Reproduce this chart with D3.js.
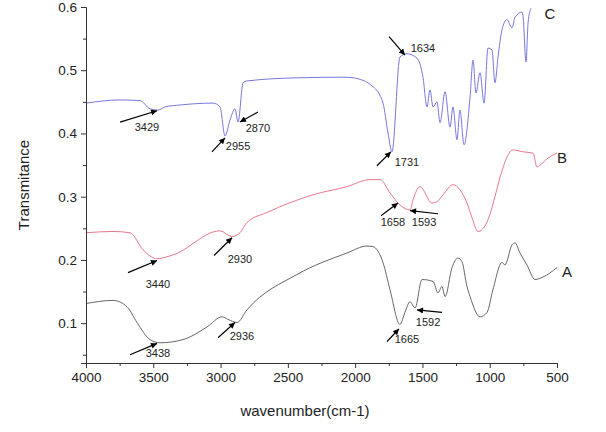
<!DOCTYPE html>
<html><head><meta charset="utf-8">
<script src="https://cdn.jsdelivr.net/npm/d3@7/dist/d3.min.js"></script>
<style>body{margin:0;background:#fff}text{font-family:"Liberation Sans",Arial,sans-serif}</style>
</head><body><svg id="c" width="606" height="432"></svg>
<script>
const xTicks=[4000,3500,3000,2500,2000,1500,1000,500];
const yTicks=[0.1,0.2,0.3,0.4,0.5,0.6];
const seriesC=[[4000,.448],[3747,.453],[3599,.452],[3524,.439],[3465,.437],[3413,.442],[3301,.445],[3056,.448],[3004,.442],[2967,.396],[2930,.421],[2893,.439],[2870,.418],[2833,.480],[2804,.483],[2432,.488],[2090,.489],[2016,.488],[1867,.474],[1793,.448],[1756,.401],[1726,.371],[1667,.521],[1615,.526],[1540,.519],[1496,.489],[1466,.442],[1444,.469],[1421,.442],[1392,.450],[1369,.417],[1332,.466],[1295,.410],[1273,.442],[1243,.390],[1221,.437],[1191,.382],[1146,.458],[1124,.516],[1102,.464],[1072,.496],[1042,.448],[1013,.535],[983,.532],[961,.480],[938,.521],[909,.564],[872,.580],[834,.567],[812,.584],[760,.592],[753,.587],[730,.513],[715,.575],[693,.598]];
const seriesB=[[4000,.243],[3799,.245],[3673,.243],[3576,.216],[3472,.202],[3353,.208],[3004,.246],[2915,.237],[2856,.243],[2804,.259],[2655,.275],[2313,.303],[2060,.316],[1890,.327],[1815,.327],[1741,.306],[1667,.287],[1592,.279],[1570,.295],[1518,.316],[1429,.290],[1392,.292],[1347,.303],[1273,.319],[1221,.311],[1169,.290],[1132,.267],[1087,.245],[1020,.260],[961,.300],[923,.331],[827,.374],[753,.371],[678,.369],[649,.347],[604,.354],[567,.361],[500,.369]];
const seriesA=[[4000,.131],[3799,.136],[3695,.126],[3621,.101],[3524,.074],[3450,.069],[3279,.074],[3101,.094],[2989,.110],[2945,.106],[2878,.101],[2804,.121],[2432,.177],[2060,.211],[1912,.222],[1867,.221],[1793,.196],[1741,.153],[1667,.098],[1630,.117],[1592,.134],[1555,.124],[1503,.169],[1421,.166],[1384,.148],[1355,.158],[1332,.142],[1280,.188],[1236,.203],[1206,.197],[1169,.158],[1146,.142],[1072,.110],[1020,.117],[976,.153],[909,.196],[887,.192],[834,.224],[812,.227],[775,.211],[723,.192],[663,.169],[604,.173],[500,.188]];
// label, tail, head, text position (data coords)
const annotations=[
["3429",[3747,.418],[3472,.436],[3547,.410]],
["3440",[3688,.180],[3472,.199],[3465,.161]],
["3438",[3673,.050],[3472,.068],[3465,.053]],
["2955",[3064,.371],[2967,.393],[2870,.380]],
["2870",[2722,.434],[2856,.418],[2722,.409]],
["2930",[3049,.207],[2915,.235],[2856,.202]],
["2936",[3019,.077],[2893,.101],[2841,.079]],
["1731",[1838,.349],[1734,.371],[1615,.354]],
["1634",[1748,.553],[1630,.524],[1496,.535]],
["1658",[1808,.270],[1682,.290],[1719,.260]],
["1593",[1384,.273],[1592,.278],[1488,.260]],
["1665",[1763,.071],[1674,.091],[1615,.074]],
["1592",[1355,.117],[1540,.121],[1458,.101]]];
const seriesLabels=[["C",552,.590],["B",463,.361],["A",426,.181]];
const colors={C:"#7777dd",B:"#e8788a",A:"#666666"};

const svg=d3.select("#c");
const x=d3.scaleLinear().domain([4000,500]).range([86,557]);
const y=d3.scaleLinear().domain([0.037,0.6]).range([363,7]);
svg.append("defs").append("marker").attr("id","ah").attr("viewBox","0 0 10 10").attr("refX",10).attr("refY",5)
 .attr("markerWidth",9).attr("markerHeight",6).attr("markerUnits","userSpaceOnUse").attr("orient","auto")
 .append("path").attr("d","M0,0L10,5L0,10z").attr("fill","#000");
const ln=d3.line().x(d=>x(d[0])).y(d=>y(d[1])).curve(d3.curveMonotoneX);
[["C",seriesC],["B",seriesB],["A",seriesA]].forEach(([k,s])=>{
 svg.append("path").datum(s).attr("d",ln).attr("fill","none").attr("stroke",colors[k]).attr("stroke-width",1);
});
svg.append("g").attr("transform","translate(0,363)").call(d3.axisBottom(x).tickValues(xTicks).tickFormat(d3.format("d")).tickSize(5).tickPadding(4));
svg.append("g").attr("transform","translate(0,363)").call(d3.axisBottom(x).tickValues(d3.range(3750,500,-500)).tickFormat("").tickSize(3)).select(".domain").remove();
svg.append("g").attr("transform","translate(86,0)").call(d3.axisLeft(y).tickValues(yTicks).tickFormat(d3.format(".1f")).tickSize(5).tickPadding(4));
svg.append("g").attr("transform","translate(86,0)").call(d3.axisLeft(y).tickValues([.05,.15,.25,.35,.45,.55]).tickFormat("").tickSize(3)).select(".domain").remove();
svg.selectAll(".tick text").attr("font-size",13.5).attr("fill","#222");
svg.selectAll(".domain,.tick line").attr("stroke","#333");
svg.append("text").attr("transform","translate(29,185) rotate(-90)").attr("text-anchor","middle").attr("font-size",15).attr("fill","#222").text("Transmitance");
svg.append("text").attr("x",305).attr("y",416).attr("text-anchor","middle").attr("font-size",15).attr("fill","#222").text("wavenumber(cm-1)");
annotations.forEach(([t,a,b,p])=>{
 svg.append("line").attr("x1",x(a[0])).attr("y1",y(a[1])).attr("x2",x(b[0])).attr("y2",y(b[1])).attr("stroke","#000").attr("stroke-width",1.2).attr("marker-end","url(#ah)");
 svg.append("text").attr("x",x(p[0])).attr("y",y(p[1])).attr("dy","0.35em").attr("text-anchor","middle").attr("font-size",11).attr("fill","#222").text(t);
});
seriesLabels.forEach(([t,w,v])=>svg.append("text").attr("x",x(w)).attr("y",y(v)).attr("dy","0.35em").attr("text-anchor","middle").attr("font-size",15).attr("fill","#222").text(t));
</script></body></html>
